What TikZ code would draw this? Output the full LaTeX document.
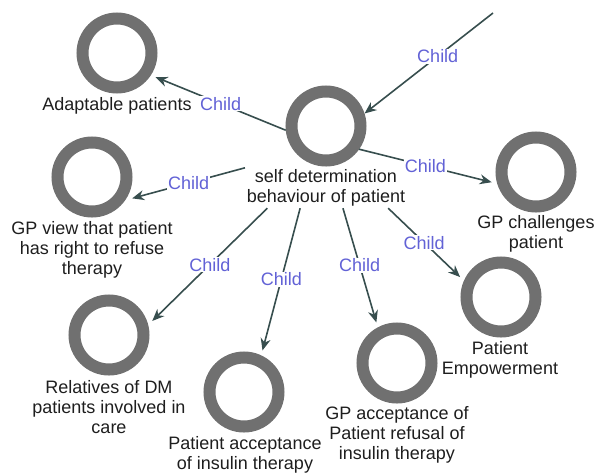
\documentclass[tikz,border=0pt]{standalone}
\usepackage{fontspec}
\setmainfont{Liberation Sans}
\usetikzlibrary{arrows.meta}
\definecolor{ringgray}{RGB}{112,112,112}
\definecolor{edgecol}{RGB}{55,78,78}
\definecolor{childblue}{RGB}{98,98,214}
\definecolor{txt}{RGB}{30,30,30}
\begin{document}
\begin{tikzpicture}[x=1pt,y=-1pt,
  ring/.style={circle, draw=ringgray, line width=12pt, minimum size=69pt, inner sep=0pt, outer sep=11pt},
  caption/.style={align=center, text=txt, font=\fontsize{18}{20}\selectfont, inner sep=0pt},
  link/.style={draw=edgecol, line width=1.6pt, -{Stealth[length=12pt,width=10pt]}},
  childlbl/.style={text=childblue, font=\fontsize{18}{20}\selectfont, fill=white, inner sep=1pt},
]
\useasboundingbox (0,0) rectangle (597,472);

% central concept
\node[ring, outer sep=6pt] (main) at (326,126) {};
\node[caption, minimum width=164pt, minimum height=40pt] (mainlbl) at (326,188)
  {self determination\\behaviour of patient};

% child concepts
\node[ring] (adapt)  at (117,53)  {};
\node[ring] (gpview) at (92,177)  {};
\node[ring] (chall)  at (536,172) {};
\node[ring] (emp)    at (501,297) {};
\node[ring] (gpacc)  at (397,363) {};
\node[ring] (patacc) at (244,392) {};
\node[ring] (rel)    at (109,335) {};

% captions
\node[caption] (adaptT)  at (117,106) {Adaptable patients};
\node[caption] (gpviewT) at (92,250)  {GP view that patient\\has right to refuse\\therapy};
\node[caption] (challT)  at (536,234) {GP challenges\\patient};
\node[caption] (empT)    at (500,360) {Patient\\Empowerment};
\node[caption] (gpaccT)  at (397,435) {GP acceptance of\\Patient refusal of\\insulin therapy};
\node[caption] (pataccT) at (245,455) {Patient acceptance\\of insulin therapy};
\node[caption] (relT)    at (109,407) {Relatives of DM\\patients involved in\\care};

% parent link entering from above
\coordinate (src) at (493,13);
\draw[link] (src) -- (main.18) node[pos=0.43, childlbl] {Child};

% child links
\draw[link] (main.186)    -- (adapt.-32)  node[midway, childlbl] {Child};
\draw[link] (main.-35)    -- (chall.193)  node[midway, childlbl] {Child};
\draw[link] (mainlbl.166) -- (gpview.-28) node[midway, childlbl] {Child};
\draw[link] (mainlbl.199) -- (rel.18)     node[midway, childlbl] {Child};
\draw[link] (mainlbl.218) -- (patacc.66)  node[midway, childlbl] {Child};
\draw[link] (mainlbl.-50) -- (gpacc.117)  node[midway, childlbl] {Child};
\draw[link] (mainlbl.-18) -- (emp.154)    node[midway, childlbl] {Child};
\end{tikzpicture}
\end{document}
